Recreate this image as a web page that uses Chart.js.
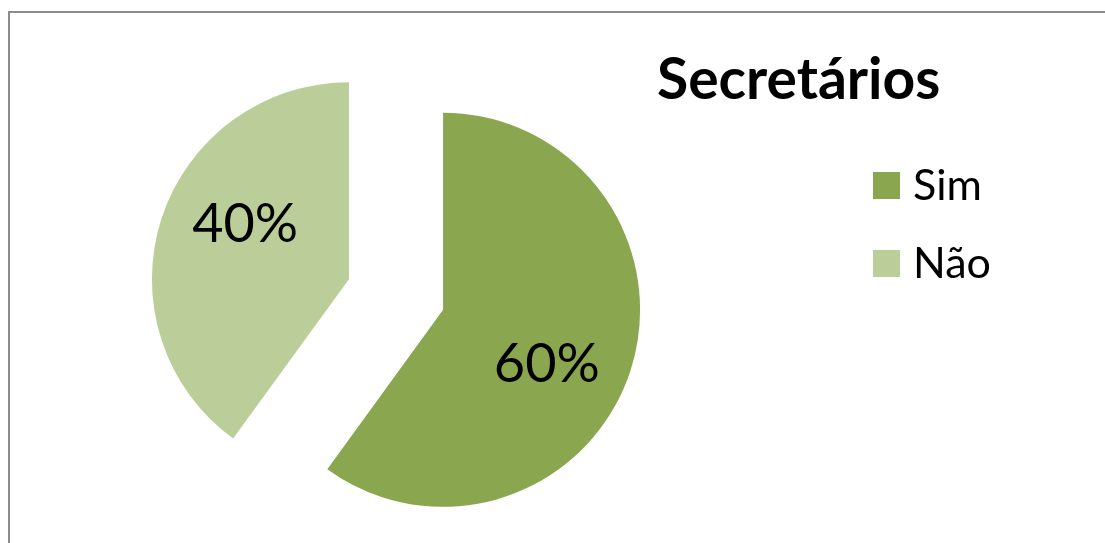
<!DOCTYPE html>
<html>
<head>
<meta charset="utf-8">
<script src="https://cdn.jsdelivr.net/npm/chart.js@4"></script>
<style>
  body { margin: 0; background: #fff; }
  #wrap { position: relative; width: 1105px; height: 543px; overflow: hidden; font-family: Lato, sans-serif; }
  #frame { position: absolute; left: 8px; top: 11px; width: 1200px; height: 700px;
           border-top: 2px solid #8c8c8c; border-left: 2px solid #8c8c8c; }
  #pie { position: absolute; left: 0; top: 0; }
  #title { position: absolute; left: 657px; top: 47px; font-size: 57px; font-weight: bold; color: #000; line-height: 60px; white-space: nowrap; }
  .item { position: absolute; left: 873px; font-size: 43px; line-height: 40px; color: #000; }
  .item span.box { position: absolute; left: 0; top: 8px; width: 27px; height: 27px; }
  .item span.txt { position: absolute; left: 40px; top: 0; white-space: nowrap; }
</style>
</head>
<body>
<div id="wrap">
  <div id="frame"></div>
  <canvas id="pie" width="1105" height="543"></canvas>
  <div id="title">Secretários</div>
  <div id="legend"></div>
</div>
<script>
const categories = ['Sim', 'Não'];
const values = [60, 40];
const colors = ['#8aa64f', '#bbce99'];

// how far each slice is pulled out from the centre, px
const explode = [49.5, 49.5];

const legendTop = [164, 242];
categories.forEach((c, i) => {
  const el = document.createElement('div');
  el.className = 'item';
  el.style.top = legendTop[i] + 'px';
  el.innerHTML = '<span class="box" style="background:' + colors[i] + '"></span><span class="txt">' + c + '</span>';
  document.getElementById('legend').appendChild(el);
});

// draw each arc shifted along its mid angle (plain translation, no distortion)
const explodedSlices = {
  id: 'explodedSlices',
  beforeDatasetDraw(chart, args) {
    const ctx = chart.ctx;
    args.meta.data.forEach((arc, i) => {
      const p = arc.getProps(['startAngle', 'endAngle'], true);
      const mid = (p.startAngle + p.endAngle) / 2;
      ctx.save();
      ctx.translate(Math.cos(mid) * explode[i], Math.sin(mid) * explode[i]);
      arc.draw(ctx);
      ctx.restore();
    });
    return false;
  },
  afterDatasetsDraw(chart) {
    const ctx = chart.ctx;
    const meta = chart.getDatasetMeta(0);
    const total = values.reduce((a, b) => a + b, 0);
    ctx.save();
    ctx.font = '54px Lato, sans-serif';
    ctx.fillStyle = '#000';
    ctx.textAlign = 'center';
    ctx.textBaseline = 'middle';
    meta.data.forEach((arc, i) => {
      const p = arc.getProps(['x', 'y', 'startAngle', 'endAngle', 'outerRadius'], true);
      const mid = (p.startAngle + p.endAngle) / 2;
      const cx = p.x + Math.cos(mid) * explode[i];
      const cy = p.y + Math.sin(mid) * explode[i];
      const a = mid + 0.17;
      const txt = Math.round(values[i] / total * 100) + '%';
      ctx.fillText(txt, cx + Math.cos(a) * p.outerRadius * 0.595, cy + Math.sin(a) * p.outerRadius * 0.595);
    });
    ctx.restore();
  }
};

new Chart(document.getElementById('pie'), {
  type: 'pie',
  data: {
    labels: categories,
    datasets: [{
      data: values,
      backgroundColor: colors,
      borderWidth: 0,
      hoverOffset: 0
    }]
  },
  options: {
    responsive: false,
    animation: false,
    radius: 197,
    layout: { padding: { left: 0, right: 313, top: 46, bottom: 0 } },
    plugins: {
      legend: { display: false },
      title: { display: false },
      tooltip: { enabled: false }
    }
  },
  plugins: [explodedSlices]
});
</script>
</body>
</html>
